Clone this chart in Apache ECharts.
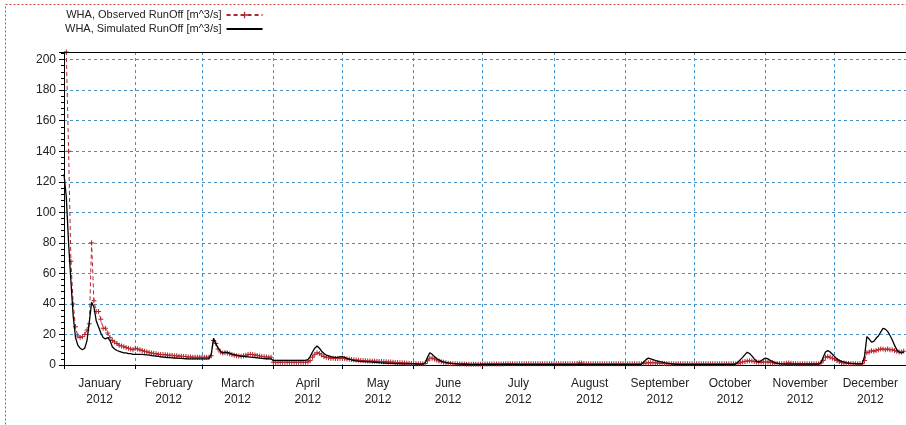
<!DOCTYPE html>
<html>
<head>
<meta charset="utf-8">
<script src="https://cdn.jsdelivr.net/npm/echarts@6/dist/echarts.min.js"></script>
<style>
html,body{margin:0;padding:0;background:#fff;}
#chart{width:906px;height:425px;}
</style>
</head>
<body>
<div id="chart"></div>
<script>
// month names and lengths of 2012 (leap year)
var monthNames=["January","February","March","April","May","June","July","August","September","October","November","December"];
var monthDays=[31,29,31,30,31,30,31,31,30,31,30,31];
var yearLabel="2012";
var yTicks=[0,20,40,60,80,100,120,140,160,180,200];

// observed runoff, daily, m^3/s
var obsJan=[210,205,140,68,40,25,19,18,18.5,20,23,27,80,42,35,35,30,24,24,21,18,16,15,14,13,12.5,12,11.5,11,10.5,10];
var obsFeb=[11,10.5,10,9.5,9,8.6,8.2,7.8,7.5,7.3,7.1,6.9,6.8,6.7,6.5,6.4,6.3,6.1,6,5.8,5.7,5.6,5.5,5.3,5.2,5.1,5,5,5];
var obsMar=[5,5,5,5,6,16,14,10.5,8.5,7.8,8,7.8,7.3,6.8,6.4,6.1,5.9,5.8,6,6.4,6.8,7,6.8,6.5,6.2,5.9,5.6,5.4,5.2,5.1,5];
var obsApr=[1.8,1.8,1.8,1.8,1.8,1.8,1.8,1.8,1.8,1.8,1.8,1.8,1.8,1.8,1.8,2,3,5,7,8,7.5,6.5,5.5,5,4.8,4.5,4.5,4.3,4.3,4.5];
var obsMay=[4.5,4.2,4,3.8,3.6,3.4,3.2,3.1,3,2.9,2.8,2.7,2.6,2.5,2.45,2.4,2.35,2.3,2.2,2.1,2,1.9,1.8,1.7,1.6,1.5,1.4,1.3,1.2,1.1,1];
var obsJun=[1,0.9,0.9,0.8,0.8,1,2.8,4.5,4.5,4,3.3,2.7,2.2,1.8,1.5,1.2,1,0.9,0.8,0.7,0.65,0.6,0.6,0.55,0.55,0.5,0.5,0.5,0.5,0.5];
var obsJul=[0.6,0.6,0.6,0.6,0.6,0.7,0.7,0.7,0.7,0.7,0.8,0.8,0.8,0.8,0.8,0.8,0.8,0.8,0.8,0.8,0.8,0.8,0.8,0.8,0.8,0.8,0.8,0.8,0.8,0.8,0.8];
var obsAug=[0.8,0.8,0.8,0.8,0.8,0.8,0.8,0.8,0.8,0.9,1,1.3,1.3,1,0.9,0.8,0.8,0.8,0.8,0.8,0.8,0.8,0.8,0.8,0.8,0.8,0.8,0.8,0.8,0.8,0.8];
var obsSep=[0.8,0.8,0.8,0.8,0.8,0.8,0.8,0.9,1.1,1.3,1.5,1.5,1.5,1.4,1.3,1.2,1.1,1,0.9,0.85,0.8,0.8,0.8,0.8,0.8,0.8,0.8,0.8,0.8,0.8];
var obsOct=[0.8,0.8,0.8,0.8,0.8,0.8,0.8,0.8,0.8,0.8,0.8,0.8,0.8,0.8,0.8,0.8,0.8,0.8,0.9,1.1,1.5,2,2.3,2.6,2.8,2.6,2.3,2,1.8,1.8,2];
var obsNov=[2,2,1.8,1.5,1.2,1,0.9,0.9,1,1.2,1.3,1.2,1,0.9,0.8,0.8,0.8,0.8,0.8,0.8,0.8,0.8,0.8,0.9,1.3,3,5,5.5,5,4.5];
var obsDec=[4,3,2.2,1.6,1.3,1.1,1,0.9,0.8,0.8,0.8,0.8,0.8,3,8,8.5,9.4,9,9.5,10,10.5,10.5,10,10.5,10,10,9.5,9,8.5,8.5,9];

// simulated runoff, daily, m^3/s
var simJan=[125,110,80,55,32,18,13,11,10,11,16,28,41,38,29,25,21,18,17,18,16,12,10.5,9.5,9,8.5,8,8,7.5,7.5,7];
var simFeb=[7,7,7,7,6.8,6.6,6.4,6.2,6,5.8,5.6,5.4,5.2,5,4.9,4.8,4.7,4.6,4.5,4.4,4.3,4.2,4.1,4,4,4,4,4,4];
var simMar=[4,4,4,4.2,7,17.5,14,11,9,8,8.5,8.3,7.8,7.2,6.8,6.4,6.1,5.8,5.6,5.5,5.3,5.1,5,4.9,4.7,4.5,4.3,4.2,4.1,4,4];
var simApr=[3,3,3,3,3,3,3,3,3,3,3,3,3,3,3,3.5,5.5,8.5,11,12.5,11,9,7.5,6.5,6,5.5,5.2,5,5,5.3];
var simMay=[5.5,5,4.4,3.8,3.3,2.9,2.7,2.5,2.4,2.3,2.2,2.1,2,1.9,1.8,1.7,1.5,1.4,1.3,1.2,1.1,1.05,1,0.95,0.9,0.85,0.8,0.8,0.75,0.7,0.7];
var simJun=[0.7,0.65,0.6,0.6,0.6,1.5,5,8,7,5.5,4.2,3.3,2.6,2.1,1.7,1.4,1.2,1,0.85,0.7,0.6,0.55,0.5,0.5,0.45,0.45,0.4,0.4,0.4,0.4];
var simJul=[0.4,0.4,0.4,0.4,0.4,0.35,0.35,0.35,0.35,0.35,0.35,0.35,0.35,0.35,0.35,0.3,0.3,0.3,0.3,0.3,0.3,0.3,0.3,0.3,0.3,0.3,0.3,0.3,0.3,0.3,0.3];
var simAug=[0.3,0.3,0.3,0.3,0.3,0.3,0.3,0.3,0.3,0.3,0.3,0.4,0.4,0.3,0.3,0.3,0.3,0.3,0.3,0.3,0.3,0.3,0.3,0.3,0.3,0.3,0.3,0.3,0.3,0.3,0.3];
var simSep=[0.3,0.3,0.3,0.3,0.3,0.3,0.3,0.6,2,3.5,4.5,4,3.5,3,2.6,2.2,1.9,1.6,1.3,1,0.8,0.6,0.45,0.35,0.3,0.3,0.3,0.3,0.3,0.3];
var simOct=[0.3,0.3,0.3,0.3,0.3,0.3,0.3,0.3,0.3,0.3,0.3,0.3,0.3,0.3,0.3,0.3,0.3,0.3,0.8,2,3.5,5,6.8,8.3,7.5,6,4.2,2.5,2,2.8,3.8];
var simNov=[4.5,4,3,2.2,1.6,1.2,0.9,0.7,0.6,0.6,0.6,0.6,0.6,0.6,0.6,0.6,0.6,0.6,0.6,0.6,0.6,0.6,0.6,0.6,1.5,5,8.5,9.4,8.5,7];
var simDec=[5.5,4,3,2.4,2,1.6,1.3,1.1,1,0.9,0.8,0.8,0.8,6,18.6,17,15,15.5,17.5,19,21.5,24,23.5,22,19.5,16.5,13,10,8.5,8,8.5];

var observed=[].concat(obsJan,obsFeb,obsMar,obsApr,obsMay,obsJun,obsJul,obsAug,obsSep,obsOct,obsNov,obsDec);
var simulated=[].concat(simJan,simFeb,simMar,simApr,simMay,simJun,simJul,simAug,simSep,simOct,simNov,simDec);

var obsName="WHA, Observed RunOff [m^3/s]";
var simName="WHA, Simulated RunOff [m^3/s]";
var redCol="#b3262e";
var gridCol="#4a8fc0";

// month boundaries (day of year) and mid-month label positions
var monthStart=[];
var monthMid=[];
var acc=0;
for(var m=0;m<12;m++){
	monthStart.push(acc);
	monthMid.push(acc+monthDays[m]/2);
	acc+=monthDays[m];
}
monthStart.push(acc);

function toPairs(arr){
	var out=[];
	for(var i=0;i<arr.length;i++){out.push([i,arr[i]]);}
	return out;
}
function monthLabel(v){
	for(var m=0;m<12;m++){
		if(v>=monthStart[m] && v<monthStart[m+1]) return monthNames[m]+"\n"+yearLabel;
	}
	return "";
}

var myChart=echarts.init(document.getElementById("chart"),null,{renderer:"canvas"});
var option={
	animation:false,
	backgroundColor:"#fff",
	graphic:[{
		type:"rect",
		silent:true,
		shape:{x:5.5,y:4.5,width:1000,height:1000},
		style:{fill:"none",stroke:"#d04646",lineWidth:1,lineDash:[2,2]}
	}],
	legend:{
		orient:"vertical",
		left:65,
		top:8,
		padding:0,
		align:"right",
		itemWidth:36,
		itemHeight:8,
		itemGap:0,
		textStyle:{fontFamily:"Liberation Sans",fontSize:11,color:"#222",lineHeight:14},
		data:[
			{name:obsName},
			{name:simName,itemStyle:{color:"rgba(0,0,0,0)",borderColor:"rgba(0,0,0,0)",borderWidth:0}}
		]
	},
	grid:{
		left:64,
		right:-2,
		top:52,
		bottom:60
	},
	xAxis:[{
		type:"value",
		min:0,
		max:366,
		axisLine:{lineStyle:{color:"#000",width:1}},
		axisTick:{show:true,length:4,lineStyle:{color:"#000"},customValues:monthStart},
		axisLabel:{
			customValues:monthMid,
			formatter:monthLabel,
			fontFamily:"Liberation Sans",
			fontSize:12,
			lineHeight:16,
			color:"#222",
			margin:11
		},
		splitLine:{show:true,lineStyle:{color:gridCol,type:[3,3],width:1}}
	},{
		// plain top border of the plot
		type:"value",
		position:"top",
		min:0,
		max:366,
		z:10,
		axisLine:{show:true,lineStyle:{color:"#000",width:1}},
		axisTick:{show:false},
		axisLabel:{show:false},
		splitLine:{show:false}
	}],
	yAxis:{
		type:"value",
		min:0,
		max:205,
		interval:20,
		axisLine:{show:true,lineStyle:{color:"#000",width:1}},
		axisTick:{show:true,length:5,lineStyle:{color:"#000"}},
		minorTick:{show:true,splitNumber:5,length:3,lineStyle:{color:"#000"}},
		axisLabel:{
			fontFamily:"Liberation Sans",
			fontSize:12,
			color:"#222",
			margin:8,
			showMaxLabel:false,
			formatter:function(v){return yTicks.indexOf(v)>=0?String(v):"";}
		},
		splitLine:{show:true,lineStyle:{color:gridCol,type:[3,3],width:1}}
	},
	series:[{
		name:obsName,
		type:"line",
		data:toPairs(observed),
		symbol:"path://M2,0H3V2H5V3H3V5H2V3H0V2H2Z",
		symbolSize:5,
		showSymbol:true,
		itemStyle:{color:redCol},
		lineStyle:{color:redCol,width:1,type:[4,3]},
		z:2
	},{
		name:simName,
		type:"line",
		data:toPairs(simulated),
		symbol:"none",
		itemStyle:{color:"#000"},
		lineStyle:{color:"#000",width:1.3},
		z:3
	}]
};
myChart.setOption(option);
</script>
</body>
</html>
